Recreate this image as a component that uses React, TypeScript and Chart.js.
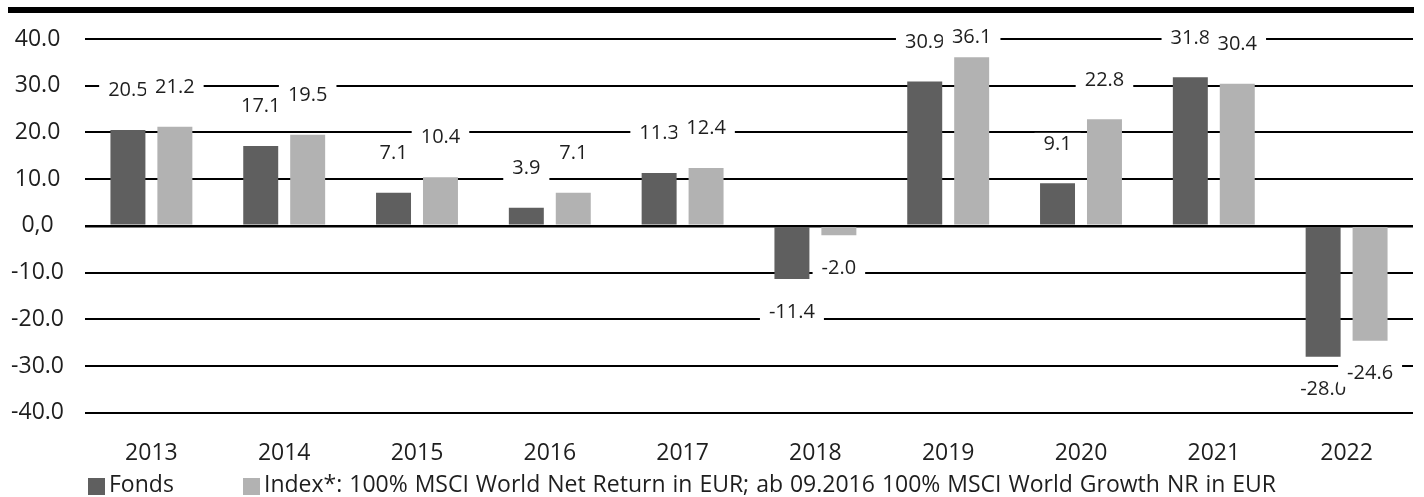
import React, { useEffect, useRef } from 'react';
import { Chart, registerables } from 'chart.js';

Chart.register(...registerables);

const years = ['2013', '2014', '2015', '2016', '2017', '2018', '2019', '2020', '2021', '2022'];
const fondsValues = [20.5, 17.1, 7.1, 3.9, 11.3, -11.4, 30.9, 9.1, 31.8, -28.0];
const indexValues = [21.2, 19.5, 10.4, 7.1, 12.4, -2.0, 36.1, 22.8, 30.4, -24.6];
const seriesNames = [
  'Fonds',
  'Index*: 100% MSCI World Net Return in EUR; ab 09.2016 100% MSCI World Growth NR in EUR',
];
const seriesColors = ['#5f5f5f', '#b2b2b2'];
const yMin = -40;
const yMax = 40;
const yStep = 10;

const FONT = "'Open Sans', 'Noto Sans', sans-serif";
const TEXT_COLOR = '#1e1e1e';
const W = 1424;
const H = 497;

const decorPlugin = {
  id: 'decor',
  beforeDraw(chart: any) {
    const ctx = chart.ctx;
    ctx.save();
    ctx.fillStyle = '#ffffff';
    ctx.fillRect(0, 0, chart.width, chart.height);
    ctx.fillStyle = '#000000';
    ctx.fillRect(8, 7, 1406, 6);
    ctx.restore();
  },
  afterDatasetsDraw(chart: any) {
    const ctx = chart.ctx;
    ctx.save();
    ctx.font = `20px ${FONT}`;
    ctx.textAlign = 'center';
    ctx.textBaseline = 'middle';
    chart.data.datasets.forEach((ds: any, di: number) => {
      const meta = chart.getDatasetMeta(di);
      meta.data.forEach((bar: any, i: number) => {
        const v = ds.data[i] as number;
        const { x, y } = bar.getProps(['x', 'y'], true);
        const cy = v >= 0 ? Math.max(y - 39.5, 37) : y + 33;
        const text = v.toFixed(1);
        const tw = ctx.measureText(text).width;
        ctx.fillStyle = '#ffffff';
        ctx.fillRect(x - tw / 2 - 9, cy - 11, tw + 18, 24);
        ctx.fillStyle = TEXT_COLOR;
        ctx.fillText(text, x, cy);
      });
    });
    ctx.restore();
  },
  afterDraw(chart: any) {
    const ctx = chart.ctx;
    ctx.save();
    ctx.font = `23px ${FONT}`;
    try {
      (ctx as any).wordSpacing = '1px';
    } catch (e) {
      /* ignore */
    }
    ctx.textAlign = 'left';
    ctx.textBaseline = 'middle';
    const legendY = 485;
    const boxXs = [88, 243];
    seriesNames.forEach((name, i) => {
      ctx.fillStyle = seriesColors[i];
      ctx.fillRect(boxXs[i], legendY - 7, 17, 17);
      ctx.fillStyle = TEXT_COLOR;
      ctx.fillText(name, boxXs[i] + 21, legendY);
    });
    ctx.restore();
  },
};

export default function App() {
  const canvasRef = useRef<HTMLCanvasElement | null>(null);

  useEffect(() => {
    const canvas = canvasRef.current;
    if (!canvas) return;
    const chart = new Chart(canvas, {
      type: 'bar',
      data: {
        labels: years,
        datasets: [
          {
            label: seriesNames[0],
            data: fondsValues,
            backgroundColor: seriesColors[0],
            borderWidth: 0,
            categoryPercentage: 0.707,
            barPercentage: 0.745,
          },
          {
            label: seriesNames[1],
            data: indexValues,
            backgroundColor: seriesColors[1],
            borderWidth: 0,
            categoryPercentage: 0.707,
            barPercentage: 0.745,
          },
        ],
      },
      options: {
        responsive: false,
        animation: false,
        devicePixelRatio: 1,
        layout: { padding: { top: 39, right: 11, bottom: 0, left: 0 } },
        plugins: {
          legend: { display: false },
          tooltip: { enabled: false },
          title: { display: false },
        },
        scales: {
          x: {
            grid: { display: false },
            border: { display: false },
            ticks: {
              color: TEXT_COLOR,
              font: { family: FONT, size: 23 },
              padding: 19,
              maxRotation: 0,
            },
            afterFit(scale: any) {
              scale.height = H - 412.7;
            },
          },
          y: {
            min: yMin,
            max: yMax,
            border: { display: false },
            grid: {
              color: '#000000',
              lineWidth: (c: any) => (c.tick && c.tick.value === 0 ? 2.5 : 2),
              drawTicks: false,
            },
            ticks: {
              stepSize: yStep,
              color: TEXT_COLOR,
              font: { family: FONT, size: 23 },
              padding: 21,
              crossAlign: 'center',
              callback: (v: any) => (Number(v) === 0 ? '0,0' : Number(v).toFixed(1)),
            },
            afterFit(scale: any) {
              scale.width = 85;
            },
          },
        },
      },
      plugins: [decorPlugin],
    } as any);
    return () => chart.destroy();
  }, []);

  return (
    <div style={{ position: 'absolute', left: 0, top: 0, width: W, height: H, background: '#fff' }}>
      <canvas ref={canvasRef} width={W} height={H} style={{ display: 'block' }} />
    </div>
  );
}
